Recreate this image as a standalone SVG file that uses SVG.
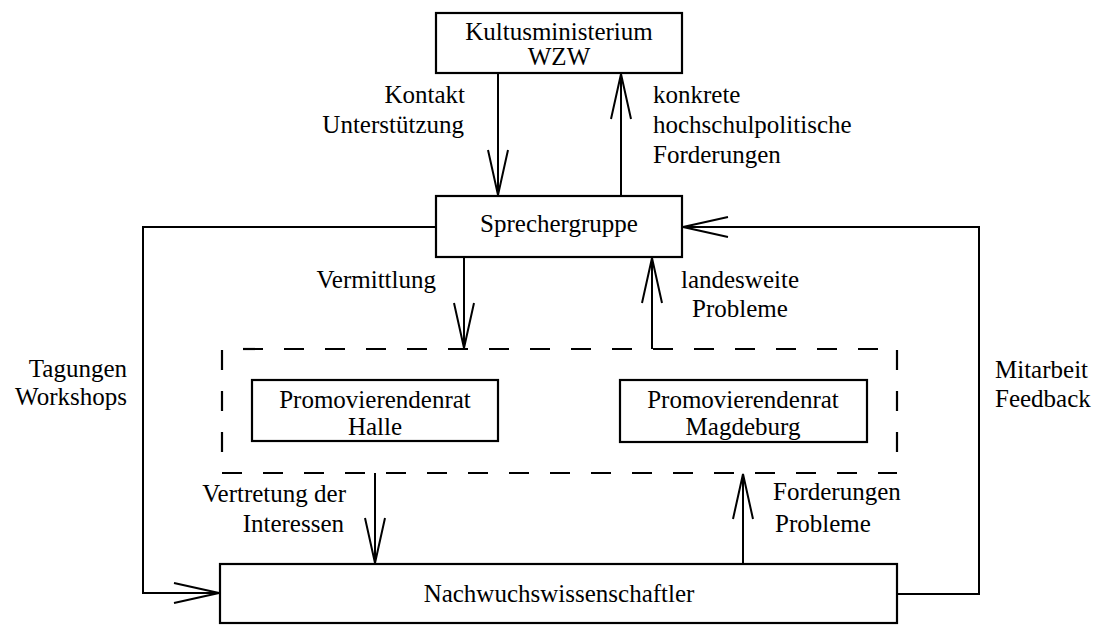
<svg xmlns="http://www.w3.org/2000/svg" width="1101" height="626" viewBox="0 0 1101 626">
<style>
text{font-family:"Liberation Serif","Times New Roman",serif;font-size:25px;fill:#000}
.box{fill:#fff;stroke:#000;stroke-width:2.2}
.ln{fill:none;stroke:#000;stroke-width:2}
.dash{fill:none;stroke:#000;stroke-width:2.2;stroke-dasharray:20 21}
.m{text-anchor:middle}
.e{text-anchor:end}
</style>
<defs>
<marker id="ah" markerUnits="userSpaceOnUse" orient="auto" markerWidth="60" markerHeight="30" viewBox="-50 -15 60 30" refX="0" refY="0" overflow="visible">
<path d="M-45,-10 L0,0 L-45,10" fill="none" stroke="#000" stroke-width="2"/>
</marker>
</defs>
<rect width="1101" height="626" fill="#fff"/>
<g id="group-dashed">
<line class="dash" x1="222" y1="349" x2="897" y2="349" stroke-dashoffset="20"/>
<line class="dash" x1="222" y1="350" x2="222" y2="473"/>
<line class="dash" x1="222" y1="473" x2="897" y2="473"/>
<line class="dash" x1="897" y1="350" x2="897" y2="473"/>
</g>
<g id="connectors">
<line class="ln" x1="498" y1="73" x2="498" y2="195" marker-end="url(#ah)"/>
<line class="ln" x1="621" y1="196" x2="621" y2="74" marker-end="url(#ah)"/>
<line class="ln" x1="464" y1="257" x2="464" y2="348" marker-end="url(#ah)"/>
<line class="ln" x1="652" y1="349" x2="652" y2="258" marker-end="url(#ah)"/>
<line class="ln" x1="375" y1="473" x2="375" y2="563" marker-end="url(#ah)"/>
<line class="ln" x1="743" y1="564" x2="743" y2="474" marker-end="url(#ah)"/>
<polyline class="ln" points="436,227 143,227 143,593 219,593" marker-end="url(#ah)"/>
<polyline class="ln" points="897,594 979,594 979,227 683,227" marker-end="url(#ah)"/>
</g>
<g id="node-kultus">
<rect class="box" x="436" y="13" width="246" height="60"/>
<text class="m" x="559" y="40">Kultusministerium</text>
<text class="m" x="559" y="65">WZW</text>
</g>
<g id="node-sprecher">
<rect class="box" x="436" y="196" width="246" height="61"/>
<text class="m" x="559" y="232">Sprechergruppe</text>
</g>
<g id="node-halle">
<rect class="box" x="252" y="380" width="246" height="61"/>
<text class="m" x="375" y="408">Promovierendenrat</text>
<text class="m" x="375" y="435">Halle</text>
</g>
<g id="node-magdeburg">
<rect class="box" x="620" y="380" width="247" height="62"/>
<text class="m" x="743" y="408">Promovierendenrat</text>
<text class="m" x="743" y="435">Magdeburg</text>
</g>
<g id="node-nachwuchs">
<rect class="box" x="220" y="564" width="677" height="59"/>
<text class="m" x="559" y="602">Nachwuchswissenschaftler</text>
</g>
<g id="labels">
<text class="e" x="465" y="103">Kontakt</text>
<text class="e" x="464" y="133">Unterstützung</text>
<text x="653" y="103">konkrete</text>
<text x="653" y="133">hochschulpolitische</text>
<text x="653" y="163">Forderungen</text>
<text class="e" x="436" y="288">Vermittlung</text>
<text class="m" x="740" y="288">landesweite</text>
<text class="m" x="740" y="317">Probleme</text>
<text class="e" x="127" y="377">Tagungen</text>
<text class="e" x="127" y="405">Workshops</text>
<text x="995" y="378">Mitarbeit</text>
<text x="995" y="407">Feedback</text>
<text class="e" x="346" y="502">Vertretung der</text>
<text class="e" x="344" y="532">Interessen</text>
<text x="773" y="500">Forderungen</text>
<text x="775" y="532">Probleme</text>
</g>
</svg>
